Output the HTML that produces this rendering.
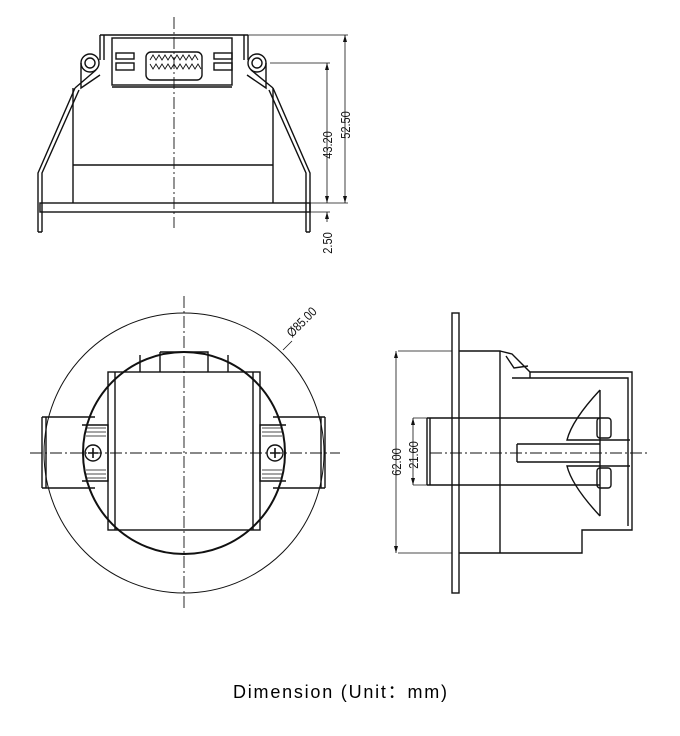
<!DOCTYPE html>
<html><head><meta charset="utf-8"><style>
html,body{margin:0;padding:0;background:#fff;}
svg{display:block}
</style></head><body>
<svg width="680" height="736" viewBox="0 0 680 736" xmlns="http://www.w3.org/2000/svg" font-family="Liberation Sans, sans-serif">
<g fill="none" stroke="#111" stroke-width="1.4">
<!-- ===== TOP VIEW ===== -->
<line x1="174" y1="17" x2="174" y2="228" stroke-dasharray="12,3,2,3" stroke-width="0.9"/>
<path d="M100 35 H248 M100 35 V60 M248 35 V60 M104 35 V60 M244 35 V60"/>
<rect x="112" y="38" width="120" height="47"/>
<line x1="112" y1="87" x2="232" y2="87"/>
<rect x="116" y="53" width="18" height="6"/><rect x="116" y="63" width="18" height="7"/>
<rect x="214" y="53" width="18" height="6"/><rect x="214" y="63" width="18" height="7"/>
<rect x="146" y="52" width="56" height="28" rx="5"/>
<path d="M150 60 l3 -5 l3 5 l3 -5 l3 5 l3 -5 l3 5 l3 -5 l3 5 l3 -5 l3 5 l3 -5 l3 5 l3 -5 l3 5 l3 -5 l3 5 M150 64 l3 5 l3 -5 l3 5 l3 -5 l3 5 l3 -5 l3 5 l3 -5 l3 5 l3 -5 l3 5 l3 -5 l3 5 l3 -5 l3 5 l3 -5 l3 5" stroke-width="0.9"/>
<circle cx="90" cy="63" r="9"/><circle cx="90" cy="63" r="5"/>
<circle cx="257" cy="63" r="9"/><circle cx="257" cy="63" r="5"/>
<path d="M81 63 V88 L100 75 M96 70 L75 88"/>
<path d="M266 63 V88 L247 75 M251 70 L273 88"/>
<path d="M73 88 V203 M273 88 V203 M73 165 H273"/>
<rect x="40" y="203" width="270" height="9"/>
<path d="M75 88 L38 173 V232 M79 90 L42 173 V232 M38 232 H42"/>
<path d="M273 88 L310 173 V232 M269 90 L306 173 V232 M306 232 H310"/>
<path d="M248 35 H348 M270 63 H330 M310 203 H348 M310 212 H330" stroke-width="0.8"/>
<path d="M345 35 V203 M327 63 V203 M327 212 V222" stroke-width="0.8"/>
</g>
<g fill="#111">
<path d="M345 35 l-2 7 h4z M345 203 l-2 -7 h4z M327 63 l-2 7 h4z M327 203 l-2 -7 h4z M327 212 l-2 7 h4z"/>
</g>
<g font-size="13" fill="#111">
<text transform="translate(332,145) rotate(-90) scale(0.85,1)" text-anchor="middle">43.20</text>
<text transform="translate(350,125) rotate(-90) scale(0.85,1)" text-anchor="middle">52.50</text>
<text transform="translate(332,243) rotate(-90) scale(0.85,1)" text-anchor="middle">2.50</text>
</g>

<!-- ===== FRONT VIEW ===== -->
<g fill="none" stroke="#111" stroke-width="1.4">
<circle cx="184" cy="453" r="140" stroke-width="1"/>
<circle cx="184" cy="453" r="101" stroke-width="2"/>
<rect x="108" y="372" width="152" height="158"/>
<path d="M115 372 V530 M253 372 V530 M140 355 V372 M228 355 V372 M160 352 H208 V372 M160 352 V372"/>
<path d="M42 417 H95 M42 488 H95 M42 417 V488 M46 417 V488 M273 417 H325 M273 488 H325 M325 417 V488 M321 417 V488"/>
<path d="M82 425 H108 V481 H82 M286 425 H260 V481 H286"/>
<path d="M86 428 H106 M86 432 H106 M86 436 H106 M86 470 H106 M86 474 H106 M86 478 H106 M262 428 H282 M262 432 H282 M262 436 H282 M262 470 H282 M262 474 H282 M262 478 H282" stroke-width="0.8"/>
<circle cx="93" cy="453" r="8"/><circle cx="275" cy="453" r="8"/>
<path d="M88 453 H98 M93 448 V458 M270 453 H280 M275 448 V458" stroke-width="1.6"/>
<line x1="184" y1="296" x2="184" y2="610" stroke-dasharray="12,3,2,3" stroke-width="0.9"/>
<line x1="30" y1="453" x2="340" y2="453" stroke-dasharray="12,3,2,3" stroke-width="0.9"/>
<line x1="283" y1="350" x2="292" y2="341" stroke-width="0.8"/>
</g>
<text transform="translate(292,338) rotate(-45) scale(0.85,1)" font-size="13" fill="#111">Ø85.00</text>

<!-- ===== SIDE VIEW ===== -->
<g fill="none" stroke="#111" stroke-width="1.4">
<rect x="452" y="313" width="7" height="280"/>
<path d="M459 351 H500 V553 H459 M500 351 L512 354 L530 372 H632 V530 H582 V553 H500"/>
<path d="M506 356 L514 368 L528 366 M512 378 H530 V372 M530 378 H628 V526"/>
<path d="M427 418 H600 M427 485 H600 M430 418 V485 M427 418 V485"/>
<path d="M600 390 Q572 420 567 440 H600 M600 516 Q572 486 567 466 H600 M600 390 V516"/>
<rect x="597" y="418" width="14" height="20" rx="3"/><rect x="597" y="468" width="14" height="20" rx="3"/>
<path d="M517 444 H600 M517 462 H600 M517 444 V462 M600 440 H630 M600 466 H630"/>
<path d="M398 351 H452 M398 553 H452 M413 418 H427 M413 485 H427" stroke-width="0.8"/>
<path d="M396 351 V553 M413 418 V485" stroke-width="0.8"/>
<line x1="430" y1="453" x2="650" y2="453" stroke-dasharray="12,3,2,3" stroke-width="0.9"/>
</g>
<g fill="#111">
<path d="M396 351 l-2 7 h4z M396 553 l-2 -7 h4z M413 418 l-2 7 h4z M413 485 l-2 -7 h4z"/>
</g>
<g font-size="13" fill="#111">
<text transform="translate(401,462) rotate(-90) scale(0.85,1)" text-anchor="middle">62.00</text>
<text transform="translate(418,455) rotate(-90) scale(0.85,1)" text-anchor="middle">21.60</text>
</g>

<text x="340" y="698" text-anchor="middle" font-size="18" fill="#000" textLength="214">Dimension (Unit：mm)</text>
</svg>
</body></html>
